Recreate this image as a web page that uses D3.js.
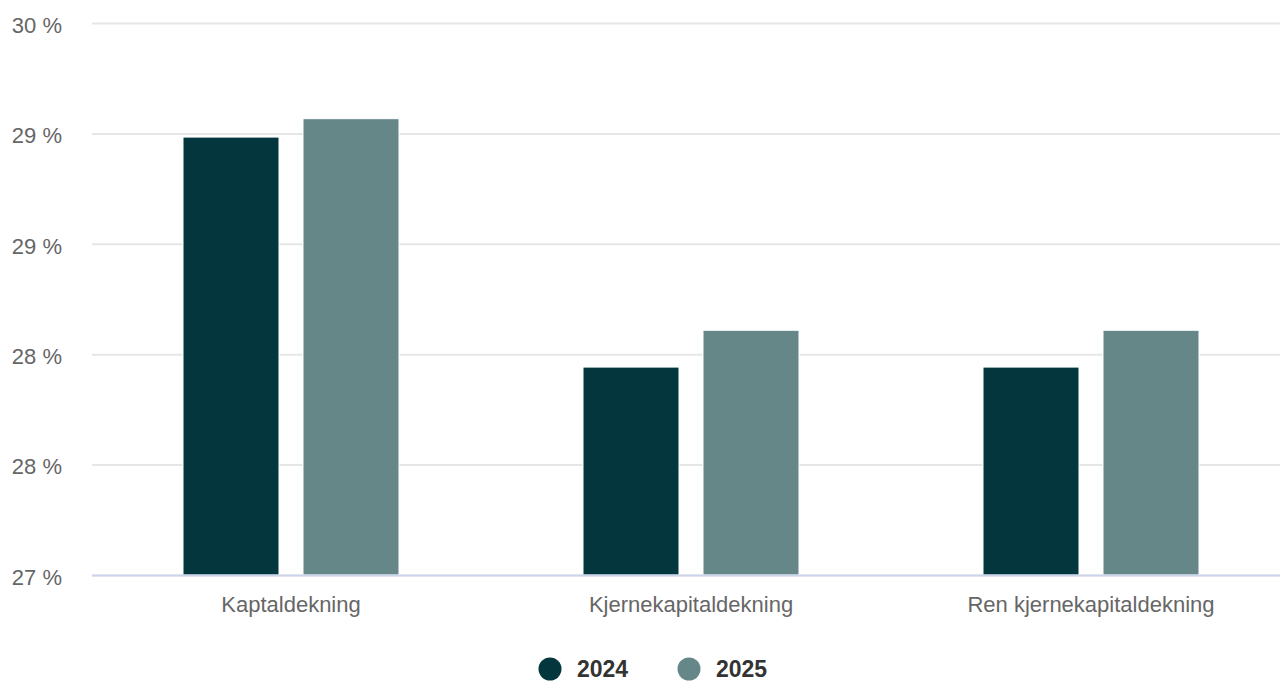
<!DOCTYPE html>
<html>
<head>
<meta charset="utf-8">
<script src="https://cdn.jsdelivr.net/npm/d3@7"></script>
<style>
  body { margin: 0; background: #fff; font-family: "Liberation Sans", Arial, sans-serif; overflow: hidden; }
</style>
</head>
<body>
<svg id="chart" width="1280" height="682"></svg>
<script>
const categories = ["Kaptaldekning", "Kjernekapitaldekning", "Ren kjernekapitaldekning"]
const seriesNames = ["2024", "2025"]
const values2024 = [29.38, 28.13, 28.13]
const values2025 = [29.48, 28.33, 28.33]
const yTicks = [27, 27.6, 28.2, 28.8, 29.4, 30]
const colors = ["#03373d", "#668788"]

const width = 1280, height = 682
// plot area runs slightly past the right edge of the window
const margin = ({top: 23, right: -11, bottom: 107, left: 91})

const svg = d3.select("#chart")

const x = d3.scaleBand()
    .domain(categories)
    .range([margin.left, width - margin.right])
    .padding(0)

// group padding 0.2 each side, point padding 0.1
const groupW = x.bandwidth() * 0.6
const slot = groupW / seriesNames.length
const barW = slot * 0.8

const y = d3.scaleLinear()
    .domain([27, 30])
    .range([height - margin.bottom, margin.top])

const fontFam = "Liberation Sans, Arial, sans-serif"

// grid + y labels
const yAxis = g => g
    .attr("transform", `translate(${margin.left},0)`)
    .call(d3.axisLeft(y).tickValues(yTicks).tickSize(0).tickPadding(29)
        .tickFormat(d => Math.round(d) + " %"))
    .call(g => g.select(".domain").remove())
    .call(g => g.selectAll(".tick line").clone()
        .attr("x1", 1)
        .attr("x2", width - margin.left)
        .attr("stroke", "#e6e6e6")
        .attr("stroke-width", 2))
    .call(g => g.selectAll("text")
        .attr("fill", "#666")
        .attr("font-size", 22)
        .attr("dy", "0.42em")
        .attr("font-family", fontFam))

svg.append("g").call(yAxis)

const data = categories.map((c, i) => ({cat: c, vals: [values2024[i], values2025[i]]}))

const groups = svg.append("g")
    .selectAll("g")
    .data(data)
    .join("g")
    .attr("transform", d => `translate(${x(d.cat) + x.bandwidth() * 0.2},0)`)

groups.selectAll("rect")
    .data(d => d.vals.map((v, j) => ({v, j})))
    .join("rect")
    .attr("x", d => d.j * slot + slot * 0.1)
    .attr("width", barW)
    .attr("y", d => y(d.v))
    .attr("height", d => y(27) - y(d.v))
    .attr("fill", d => colors[d.j])
    .attr("stroke", "#fff")
    .attr("stroke-width", 1)

// baseline
svg.append("line")
    .attr("x1", margin.left + 1).attr("x2", width)
    .attr("y1", y(27) + 0.5).attr("y2", y(27) + 0.5)
    .attr("stroke", "#ccd6eb").attr("stroke-width", 2)

// x axis labels
svg.append("g")
    .attr("transform", `translate(0,${height - margin.bottom})`)
    .call(d3.axisBottom(x).tickSize(0).tickPadding(21))
    .call(g => g.select(".domain").remove())
    .call(g => g.selectAll("text")
        .attr("fill", "#666")
        .attr("font-size", 22)
        .attr("font-family", fontFam))

// legend
const legendX = [550, 689]
const legend = svg.append("g")
    .selectAll("g")
    .data(seriesNames)
    .join("g")
    .attr("transform", (d, i) => `translate(${legendX[i]},669)`)

legend.append("circle")
    .attr("r", 11.5)
    .attr("fill", (d, i) => colors[i])

legend.append("text")
    .attr("x", 27)
    .attr("y", 8)
    .attr("font-size", 23)
    .attr("font-weight", "bold")
    .attr("font-family", fontFam)
    .attr("fill", "#333")
    .text(d => d)
</script>
</body>
</html>
